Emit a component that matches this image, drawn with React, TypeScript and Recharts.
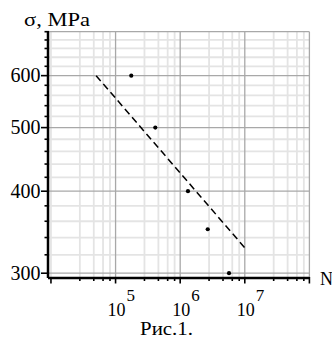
import React from 'react';
import { ScatterChart, Scatter, XAxis, YAxis, ReferenceLine } from 'recharts';

// ---- data ----
const fatigueN = [175000, 412000, 1320000, 2670000, 5700000];
const fatigueS = [600, 500, 400, 350, 300];
const fitN = [50000, 10000000];
const fitS = [600, 328];

// ---- axes / ticks ----
const X_DOMAIN = [9000, 100000000];
const Y_DOMAIN = [295, 700];
const xDecades = [10000, 100000, 1000000, 10000000, 100000000];
const xMinorTicks = [
  28000, 46000, 64000, 82000,
  280000, 460000, 640000, 820000,
  2800000, 4600000, 6400000, 8200000,
  28000000, 46000000, 64000000, 82000000,
];
const xGridMajor = [100000, 1000000, 10000000, 100000000];
const xGridMinor = [10000, ...xMinorTicks];
const xAllTicks = [...xDecades, ...xMinorTicks].sort((a, b) => a - b);
const xLabelExp: Record<number, string> = { 100000: '5', 1000000: '6', 10000000: '7' };

const yMajor = [300, 400, 500, 600, 700];
const yMinor = [320, 340, 360, 380, 420, 440, 460, 480, 520, 540, 560, 580, 620, 640, 660, 680];
const yAllTicks = [...yMajor, ...yMinor].sort((a, b) => a - b);
const yLabels = [300, 400, 500, 600];

const points = fatigueN.map((n, i) => ({ n, s: fatigueS[i] }));
const fit = fitN.map((n, i) => ({ n, s: fitS[i] }));

const FONT = '"Liberation Serif", "DejaVu Serif", serif';
const MINOR = '#e4e4e4';
const MAJOR = '#a8a8a8';

const XTick = (props: any) => {
  const { x, y, payload } = props;
  const v = payload.value;
  const major = xDecades.includes(v);
  const exp = xLabelExp[v];
  const ay = y - 1;
  return (
    <g>
      <line x1={x} x2={x} y1={ay} y2={ay + (major ? 6.5 : 4)} stroke="#000" strokeWidth={1.6} />
      {exp && (
        <g fill="#000">
          <text x={x - 8} y={ay + 39} fontSize={18} fontFamily={FONT}>10</text>
          <text x={x + 11} y={ay + 24} fontSize={17} fontFamily={FONT}>{exp}</text>
        </g>
      )}
    </g>
  );
};

const YTick = (props: any) => {
  const { x, y, payload } = props;
  const v = payload.value;
  const major = yMajor.includes(v) && v !== 700;
  const lab = yLabels.includes(v);
  const ax = x + 1;
  return (
    <g>
      <line x1={ax - (major ? 8 : 4.5)} x2={ax} y1={y} y2={y} stroke="#000" strokeWidth={1.6} />
      {lab && (
        <text x={ax - 8.5} y={y + 6.8} fontSize={20} fontFamily={FONT} textAnchor="end" fill="#000">
          {v}
        </text>
      )}
    </g>
  );
};

const Dot = (p: any) => <circle cx={p.cx} cy={p.cy} r={2.1} fill="#000" />;
const NoShape = () => <g />;

export default function App() {
  return (
    <div style={{ position: 'absolute', left: 0, top: 0, width: 332, height: 343, background: '#fff' }}>
      <ScatterChart
        width={332}
        height={343}
        margin={{ top: 31.7, right: 22.6, bottom: 64, left: 47 }}
      >
        <XAxis
          xAxisId="main"
          type="number"
          dataKey="n"
          scale="log"
          domain={X_DOMAIN}
          allowDataOverflow
          ticks={xAllTicks}
          interval={0}
          height={1}
          tickSize={0}
          tickMargin={0}
          tickLine={false}
          axisLine={{ stroke: '#000', strokeWidth: 2.5 }}
          tick={(p: any) => <XTick {...p} />}
        />
        <YAxis
          yAxisId="main"
          type="number"
          dataKey="s"
          scale="log"
          domain={Y_DOMAIN}
          allowDataOverflow
          ticks={yAllTicks}
          interval={0}
          width={1}
          tickSize={0}
          tickMargin={0}
          tickLine={false}
          axisLine={{ stroke: '#000', strokeWidth: 2.5 }}
          tick={(p: any) => <YTick {...p} />}
        />
        {xGridMinor.map((v) => (
          <ReferenceLine key={'xm' + v} xAxisId="main" yAxisId="main" x={v} stroke={MINOR} strokeWidth={1.8} />
        ))}
        {yMinor.map((v) => (
          <ReferenceLine key={'ym' + v} xAxisId="main" yAxisId="main" y={v} stroke={MINOR} strokeWidth={1.8} />
        ))}
        {xGridMajor.map((v) => (
          <ReferenceLine key={'xM' + v} xAxisId="main" yAxisId="main" x={v} stroke={MAJOR} strokeWidth={1.3} />
        ))}
        {yMajor.map((v) => (
          <ReferenceLine key={'yM' + v} xAxisId="main" yAxisId="main" y={v} stroke={MAJOR} strokeWidth={1.3} />
        ))}
        <Scatter
          xAxisId="main"
          yAxisId="main"
          data={fit}
          line={{ stroke: '#000', strokeWidth: 1.5, strokeDasharray: '7 4' }}
          shape={NoShape}
          isAnimationActive={false}
        />
        <Scatter xAxisId="main" yAxisId="main" data={points} shape={Dot} isAnimationActive={false} />
      </ScatterChart>
      <svg
        width={332}
        height={343}
        style={{ position: 'absolute', left: 0, top: 0, pointerEvents: 'none' }}
      >
        <text x={24} y={26} fontSize={19} textLength={66} lengthAdjust="spacingAndGlyphs" fill="#000" fontFamily={FONT}>σ, MPa</text>
        <text x={320} y={285} fontSize={18} fill="#000" fontFamily={FONT}>N</text>
        <text x={140} y={335} fontSize={19} textLength={53} lengthAdjust="spacingAndGlyphs" fill="#000" fontFamily={FONT}>Рис.1.</text>
      </svg>
    </div>
  );
}
